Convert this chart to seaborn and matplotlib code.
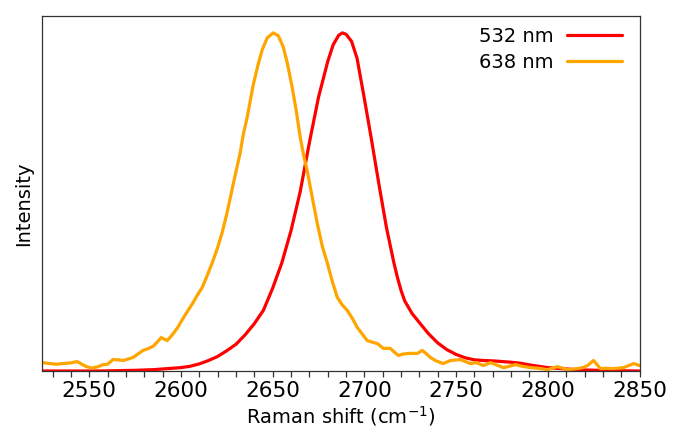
import matplotlib
matplotlib.use("Agg")
import matplotlib.pyplot as plt
from matplotlib.ticker import MultipleLocator
import seaborn as sns
import pandas as pd

# 532 nm excitation, normalised intensity
shift_532 = [2524, 2535, 2545, 2555, 2565, 2575, 2585, 2590, 2595, 2600,
             2605, 2610, 2615, 2620, 2625, 2630, 2635, 2640, 2645, 2650,
             2655, 2660, 2665, 2670, 2675, 2680, 2683, 2686, 2688, 2690,
             2693, 2696, 2700, 2704, 2708, 2712, 2716, 2718, 2720, 2722,
             2726, 2730, 2735, 2740, 2745, 2750, 2755, 2760, 2765, 2770,
             2775, 2780, 2785, 2790, 2795, 2800, 2810, 2820, 2835, 2850]
int_532 = [0.000, 0.000, 0.000, 0.000, 0.001, 0.002, 0.004, 0.006, 0.008, 0.010,
           0.014, 0.021, 0.031, 0.043, 0.060, 0.079, 0.107, 0.140, 0.180, 0.245,
           0.320, 0.415, 0.530, 0.675, 0.810, 0.915, 0.965, 0.993, 1.000, 0.996,
           0.975, 0.925, 0.805, 0.680, 0.550, 0.425, 0.322, 0.277, 0.238, 0.207,
           0.170, 0.143, 0.110, 0.083, 0.063, 0.049, 0.039, 0.033, 0.031, 0.030,
           0.028, 0.026, 0.023, 0.018, 0.014, 0.010, 0.006, 0.003, 0.001, 0.000]

# 638 nm excitation
shift_638 = [2524, 2528.6, 2532, 2535.7, 2540, 2543.4, 2546.6, 2549, 2551.6, 2554.5,
             2557.6, 2560, 2563, 2566, 2568.5, 2571, 2573.9, 2576.5, 2579.4, 2582,
             2584.8, 2587, 2589.2, 2592.5, 2595, 2597.9, 2601.2, 2604, 2606.7, 2609,
             2611.6, 2614.5, 2617, 2620, 2622.5, 2625, 2627, 2630, 2632.3, 2634,
             2636.1, 2639.4, 2642, 2644.3, 2647, 2650.3, 2653, 2655.7, 2658, 2660.6,
             2663, 2665, 2667, 2668.8, 2671, 2674.3, 2677, 2679.8, 2682.5, 2685.2,
             2688, 2690.7, 2693.5, 2696.1, 2699, 2701.6, 2704.5, 2707.1, 2710.3, 2714.1,
             2716.5, 2718.5, 2721, 2724, 2728.9, 2731.6, 2734, 2736, 2739, 2743,
             2746.9, 2752.3, 2755, 2757.8, 2761, 2764.9, 2768.7, 2772, 2775.8, 2779,
             2782.3, 2786, 2790.5, 2795, 2799.8, 2805.2, 2810.7, 2816.1, 2819, 2821.6,
             2824.9, 2828.7, 2832, 2835.8, 2841.3, 2846.8, 2850]
int_638 = [0.025, 0.022, 0.020, 0.022, 0.024, 0.028, 0.018, 0.012, 0.009, 0.012,
           0.019, 0.020, 0.034, 0.033, 0.031, 0.035, 0.040, 0.050, 0.061, 0.066,
           0.073, 0.085, 0.099, 0.090, 0.105, 0.126, 0.156, 0.180, 0.203, 0.225,
           0.247, 0.285, 0.319, 0.365, 0.410, 0.465, 0.515, 0.590, 0.645, 0.700,
           0.750, 0.846, 0.905, 0.950, 0.985, 1.000, 0.992, 0.960, 0.910, 0.840,
           0.765, 0.692, 0.635, 0.593, 0.530, 0.437, 0.370, 0.319, 0.265, 0.218,
           0.195, 0.179, 0.155, 0.129, 0.108, 0.090, 0.085, 0.081, 0.067, 0.067,
           0.055, 0.046, 0.050, 0.052, 0.052, 0.061, 0.050, 0.040, 0.030, 0.022,
           0.031, 0.034, 0.028, 0.022, 0.025, 0.016, 0.025, 0.018, 0.010, 0.014,
           0.019, 0.014, 0.010, 0.008, 0.004, 0.013, 0.004, 0.007, 0.010, 0.016,
           0.031, 0.007, 0.008, 0.007, 0.010, 0.022, 0.016]

labels = ["532 nm", "638 nm"]
colors = ["#ff0000", "#ffa500"]

sns.set_style("ticks")
plt.rcParams['font.family'] = ['DejaVu Sans']
plt.rcParams['text.color'] = 'black'
plt.rcParams['axes.labelcolor'] = 'black'
plt.rcParams['xtick.color'] = 'black'

fig = plt.figure(figsize=(6.75, 4.32), dpi=100)
ax = fig.add_axes([0.0615, 0.1412, 0.886, 0.8218])

df532 = pd.DataFrame({"shift": shift_532, "intensity": int_532})
df638 = pd.DataFrame({"shift": shift_638, "intensity": int_638})
sns.lineplot(data=df532, x="shift", y="intensity", color=colors[0],
             linewidth=2.3, label=labels[0], ax=ax)
sns.lineplot(data=df638, x="shift", y="intensity", color=colors[1],
             linewidth=2.3, label=labels[1], ax=ax)

ax.set_xlim(2524, 2850)
ax.set_ylim(0, 1.05)
ax.xaxis.set_major_locator(MultipleLocator(50))
ax.xaxis.set_minor_locator(MultipleLocator(10))
ax.set_yticks([])
ax.tick_params(axis='x', which='major', direction='out', length=4.5,
               width=0.9, color='#333333', labelsize=15.5, pad=3)
ax.tick_params(axis='x', which='minor', direction='out', length=4.5,
               width=0.9, color='#333333')

for s in ax.spines.values():
    s.set_color('#333333')
    s.set_linewidth(0.9)
    s.set_visible(True)

ax.set_xlabel("Raman shift (cm$^{-1}$)", fontsize=14, labelpad=2)
ax.set_ylabel("Intensity", fontsize=14)
ax.yaxis.set_label_coords(-0.014, 0.47)

ax.legend(loc='upper right', bbox_to_anchor=(0.971, 0.97), frameon=False,
          markerfirst=False, fontsize=14, handlelength=2.85,
          handletextpad=0.66, labelspacing=0.38, borderpad=0, borderaxespad=0)

plt.savefig("out.png", dpi=100)
